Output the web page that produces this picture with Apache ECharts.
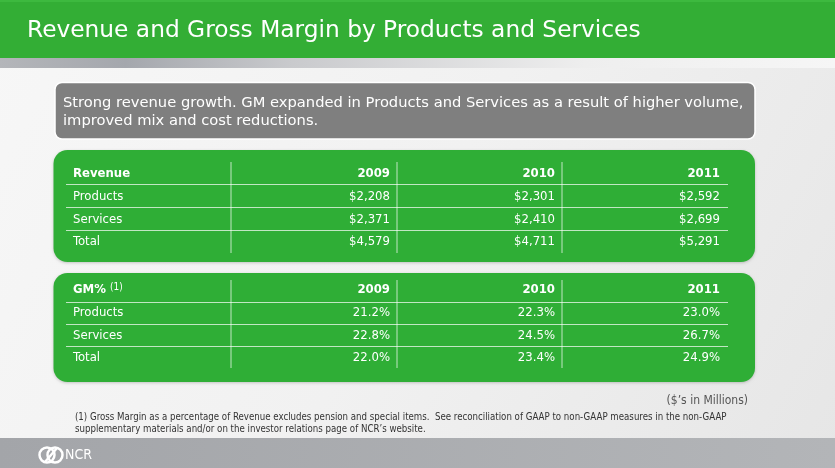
<!DOCTYPE html>
<html>
<head>
<meta charset="utf-8">
<script src="https://cdn.jsdelivr.net/npm/echarts@6/dist/echarts.min.js"></script>
<style>
html,body{margin:0;padding:0;background:#f2f2f2;}
#main{width:835px;height:468px;}
</style>
</head>
<body>
<div id="main"></div>
<script>
// ---- data ----
const titleText = 'Revenue and Gross Margin by Products and Services';
const calloutLines = [
  'Strong revenue growth. GM expanded in Products and Services as a result of higher volume,',
  'improved mix and cost reductions.'
];
const years = ['2009', '2010', '2011'];
const rowLabels = ['Products', 'Services', 'Total'];
const revProducts = [2208, 2301, 2592];
const revServices = [2371, 2410, 2699];
const revTotal = [4579, 4711, 5291];
const gmProducts = [21.2, 22.3, 23.0];
const gmServices = [22.8, 24.5, 26.7];
const gmTotal = [22.0, 23.4, 24.9];
const unitsNote = '($\u2019s in Millions)';
const footnoteLines = [
  '(1) Gross Margin as a percentage of Revenue excludes pension and special items.  See reconciliation of GAAP to non-GAAP measures in the non-GAAP',
  'supplementary materials and/or on the investor relations page of NCR\u2019s website.'
];

// ---- helpers ----
const fmtMoney = v => '$' + v.toLocaleString('en-US');
const fmtPct = v => v.toFixed(1) + '%';

const GREEN = '#2fae36';
const FONT = '"DejaVu Sans", Verdana, sans-serif';
const TFONT = '"DejaVu Sans Condensed", "DejaVu Sans", sans-serif';

const chart = echarts.init(document.getElementById('main'), null, {renderer: 'canvas'});
const els = [];

// background
els.push({type: 'rect', shape: {x: 0, y: 0, width: 835, height: 468}, silent: true,
  style: {fill: {type: 'linear', x: 0, y: 0, x2: 1, y2: 1, colorStops: [
    {offset: 0, color: '#f7f7f7'}, {offset: 0.5, color: '#f1f1f1'}, {offset: 1, color: '#e6e6e6'}]}}});
// header band
els.push({type: 'rect', shape: {x: 0, y: 0, width: 835, height: 58}, style: {fill: '#33ae35'}});
els.push({type: 'rect', shape: {x: 0, y: 0, width: 835, height: 2}, style: {fill: '#3db93f'}});
els.push({type: 'rect', shape: {x: 0, y: 58, width: 835, height: 10},
  style: {fill: {type: 'linear', x: 0, y: 0, x2: 1, y2: 0, colorStops: [
    {offset: 0, color: '#b4b6ba'}, {offset: 0.15, color: '#a4a7ad'}, {offset: 0.35, color: '#c9cacd'}, {offset: 0.7, color: '#eeeeee'}, {offset: 1, color: '#f6f6f6'}]}}});
els.push({type: 'text', style: {text: titleText, x: 27, y: 31, fill: '#ffffff', font: '23.3px ' + FONT, textAlign: 'left', textVerticalAlign: 'middle'}});

// callout box
els.push({type: 'rect', shape: {x: 55, y: 82.5, width: 700, height: 56.5, r: 7}, style: {fill: '#7f7f7f', stroke: '#ffffff', lineWidth: 1.5}});
calloutLines.forEach((t, i) => {
  els.push({type: 'text', style: {text: t, x: 63, y: 103 + i * 18, fill: '#ffffff', font: '14.7px ' + FONT, textAlign: 'left', textVerticalAlign: 'middle'}});
});

function table(cfg) {
  const {top, bottom, headerY, rowY, lineY, vTop, vBottom, header, rows, fmt} = cfg;
  els.push({type: 'rect', shape: {x: 53.5, y: top, width: 701.5, height: bottom - top, r: 14}, style: {fill: GREEN, shadowBlur: 3, shadowColor: 'rgba(0,0,0,0.2)', shadowOffsetY: 1}});
  lineY.forEach(y => els.push({type: 'line', shape: {x1: 66, y1: y, x2: 728, y2: y}, style: {stroke: 'rgba(255,255,255,0.7)', lineWidth: 1}}));
  [231, 397, 562].forEach(x => els.push({type: 'line', shape: {x1: x, y1: vTop, x2: x, y2: vBottom}, style: {stroke: 'rgba(255,255,255,0.7)', lineWidth: 1}}));
  els.push({type: 'text', style: {text: header, x: 73, y: headerY, fill: '#ffffff', font: 'bold 13px ' + TFONT, textAlign: 'left', textVerticalAlign: 'middle',
    rich: {b: {font: 'bold 13px ' + TFONT, fill: '#fff'}, s: {font: '10px ' + TFONT, fill: '#fff', verticalAlign: 'top', padding: [0, 0, 6, 4]}}}});
  const colRight = [390, 555, 720];
  years.forEach((yr, j) => els.push({type: 'text', style: {text: yr, x: colRight[j], y: headerY, fill: '#ffffff', font: 'bold 13px ' + TFONT, textAlign: 'right', textVerticalAlign: 'middle'}}));
  rows.forEach((vals, i) => {
    els.push({type: 'text', style: {text: rowLabels[i], x: 73, y: rowY[i], fill: '#ffffff', font: '13px ' + TFONT, textAlign: 'left', textVerticalAlign: 'middle'}});
    vals.forEach((v, j) => els.push({type: 'text', style: {text: fmt(v), x: colRight[j], y: rowY[i], fill: '#ffffff', font: '13px ' + TFONT, textAlign: 'right', textVerticalAlign: 'middle'}}));
  });
}

table({top: 150, bottom: 262, headerY: 174, rowY: [197, 219.5, 242], lineY: [184.5, 207.5, 230.5], vTop: 162, vBottom: 253,
  header: '{b|Revenue}', rows: [revProducts, revServices, revTotal], fmt: fmtMoney});
table({top: 273, bottom: 382, headerY: 290, rowY: [313, 335.5, 357.5], lineY: [302.5, 324.5, 346.5], vTop: 280, vBottom: 368,
  header: '{b|GM%}{s|(1)}', rows: [gmProducts, gmServices, gmTotal], fmt: fmtPct});

// units note
els.push({type: 'text', style: {text: unitsNote, x: 748, y: 400.5, fill: '#555555', font: '12px ' + TFONT, textAlign: 'right', textVerticalAlign: 'middle'}});
footnoteLines.forEach((t, i) => {
  els.push({type: 'text', style: {text: t, x: 75, y: 417 + i * 12, fill: '#333333', font: '9.62px ' + TFONT, textAlign: 'left', textVerticalAlign: 'middle'}});
});

// bottom bar
els.push({type: 'rect', shape: {x: 0, y: 438, width: 835, height: 30},
  style: {fill: {type: 'linear', x: 0, y: 0, x2: 1, y2: 0, colorStops: [{offset: 0, color: '#a3a5a9'}, {offset: 1, color: '#b3b5b8'}]}}});
// NCR logo (simplified interlocking rings)
els.push({type: 'circle', shape: {cx: 47, cy: 455, r: 7.5}, style: {fill: 'none', stroke: '#ffffff', lineWidth: 2.5}});
els.push({type: 'circle', shape: {cx: 55, cy: 455, r: 7.5}, style: {fill: 'none', stroke: '#ffffff', lineWidth: 2.5}});
els.push({type: 'line', shape: {x1: 45, y1: 462, x2: 57, y2: 448}, style: {stroke: '#ffffff', lineWidth: 2.5}});
els.push({type: 'text', style: {text: 'NCR', x: 65, y: 455.5, fill: '#ffffff', font: '14px ' + TFONT, textAlign: 'left', textVerticalAlign: 'middle'}});

chart.setOption({
  animation: false,
  graphic: {elements: els}
});
</script>
</body>
</html>
